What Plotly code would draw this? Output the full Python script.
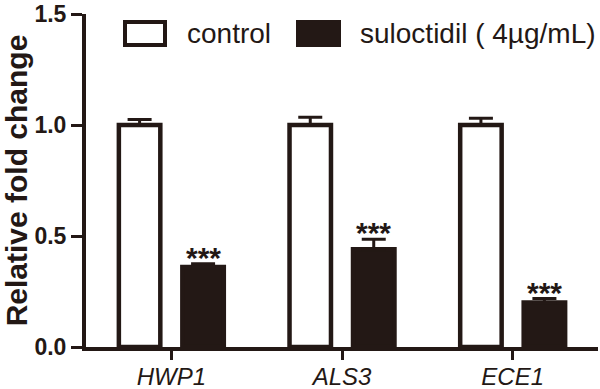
import plotly.graph_objects as go

genes = ["HWP1", "ALS3", "ECE1"]
control_vals = [1.0, 1.0, 1.0]
control_err = [0.025, 0.035, 0.03]
sulo_vals = [0.36, 0.44, 0.20]
sulo_err = [0.015, 0.045, 0.018]
sig_labels = ["***", "***", "***"]
y_ticks = [0.0, 0.5, 1.0, 1.5]

INK = "#231815"
FONT = "Liberation Sans, Arial, sans-serif"
BARGAP = 0.256
GROUPGAP = 0.347

fig = go.Figure()
fig.add_trace(go.Bar(
    x=genes, y=control_vals, name="control",
    marker=dict(color="white", line=dict(color=INK, width=4.5)),
    error_y=dict(type="data", array=control_err, arrayminus=[0]*len(genes),
                 symmetric=False, color=INK, thickness=3, width=12),
))
fig.add_trace(go.Bar(
    x=genes, y=sulo_vals, name="suloctidil ( 4µg/mL)",
    marker=dict(color=INK, line=dict(color=INK, width=4.5)),
    error_y=dict(type="data", array=sulo_err, arrayminus=[0]*len(genes),
                 symmetric=False, color=INK, thickness=3, width=12),
))

# significance stars above suloctidil bars
offset = (1 - BARGAP) / 4
for i, (v, e, s) in enumerate(zip(sulo_vals, sulo_err, sig_labels)):
    fig.add_annotation(x=i + offset, y=v + e, xref="x", yref="y", text=s,
                       showarrow=False, yanchor="bottom", yshift=-12,
                       font=dict(family=FONT, size=30, weight="bold", color=INK))

# manual legend
L, R, T, B = 86, 2, 14, 42
W, H = 600 - L - R, 389 - T - B
def px(x):
    return (x - L) / W
def py(y):
    return (389 - B - y) / H

legend_items = [("control", "white", 125, 165, 185),
                ("suloctidil ( 4µg/mL)", INK, 298, 339, 358)]
for name, fill, bx0, bx1, tx in legend_items:
    fig.add_shape(type="rect", xref="paper", yref="paper",
                  x0=px(bx0), x1=px(bx1), y0=py(45), y1=py(22),
                  line=dict(color=INK, width=4), fillcolor=fill)
    fig.add_annotation(x=px(tx), y=py(33.5), xref="paper", yref="paper",
                       text=name, showarrow=False, xanchor="left", yanchor="middle",
                       font=dict(family=FONT, size=28, color=INK))

fig.update_layout(
    width=600, height=389,
    margin=dict(l=L, r=R, t=T, b=B, pad=0, autoexpand=False),
    paper_bgcolor="white", plot_bgcolor="white",
    barmode="group", bargap=BARGAP, bargroupgap=GROUPGAP,
    showlegend=False,
    font=dict(family=FONT, color=INK),
)
fig.update_xaxes(
    showline=True, linecolor=INK, linewidth=4,
    ticks="outside", ticklen=9, tickwidth=3, tickcolor=INK,
    tickfont=dict(family=FONT, size=24, style="italic", color=INK),
    ticklabelstandoff=-4, ticklabeloverflow="allow",
    showgrid=False, zeroline=False, range=[-0.5, 2.5], automargin=False,
)
fig.update_yaxes(
    range=[0, 1.5], tickvals=y_ticks, ticktext=[f"{t:.1f}" for t in y_ticks],
    showline=True, linecolor=INK, linewidth=4,
    ticks="outside", ticklen=11, tickwidth=3, tickcolor=INK,
    tickfont=dict(family=FONT, size=23, weight="bold", color=INK),
    ticklabeloverflow="allow",
    showgrid=False, zeroline=False, automargin=False,
    title=dict(text="Relative fold change", standoff=4,
               font=dict(family=FONT, size=30, weight="bold", color=INK)),
)

fig.write_html("out.html", config={"displayModeBar": False},
               post_script="document.body.style.margin='0';document.body.style.overflow='hidden';")
